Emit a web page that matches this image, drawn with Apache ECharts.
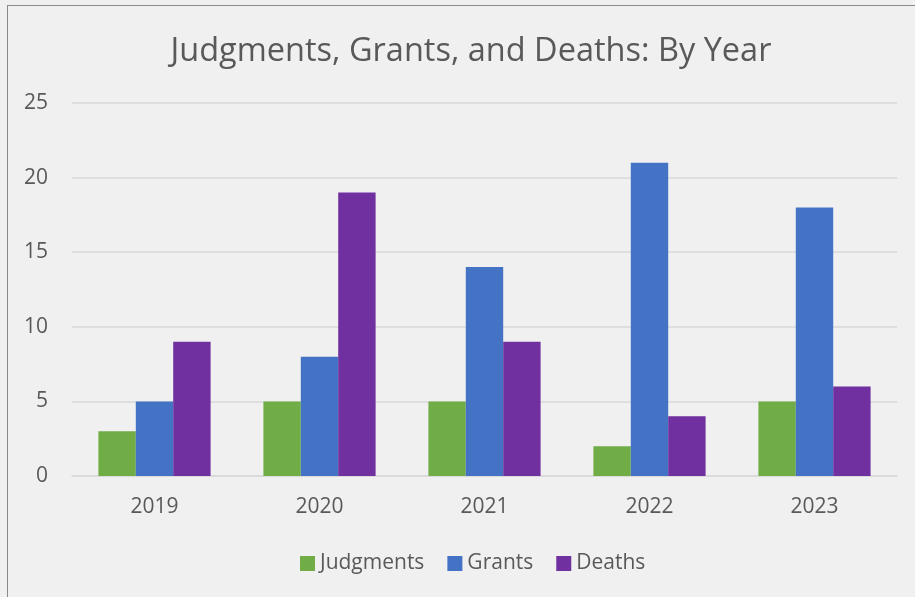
<!DOCTYPE html>
<html><head><meta charset="utf-8">
<script src="https://cdn.jsdelivr.net/npm/echarts@6/dist/echarts.min.js"></script>
<style>
html,body{margin:0;padding:0;background:#f0f0f0;}
#frame{position:absolute;left:7px;top:5px;width:930px;height:620px;border:1.5px solid #8a8a8a;box-sizing:border-box;}
#c{position:absolute;left:0;top:0;width:915px;height:597px;}
</style></head>
<body>
<div id="frame"></div>
<div id="c"></div>
<script>
const categories = ['2019','2020','2021','2022','2023'];
const judgments = [3,5,5,2,5];
const grants = [5,8,14,21,18];
const deaths = [9,19,9,4,6];
const yTicks = [0,5,10,15,20,25];

const chart = echarts.init(document.getElementById('c'));
const font = "'Open Sans', 'Noto Sans', sans-serif";
chart.setOption({
  backgroundColor: 'transparent',
  title: {
    text: 'Judgments, Grants, and Deaths: By Year',
    left: 466, top: 30, textAlign: 'center',
    textStyle: {fontFamily: font, fontSize: 32.5, fontWeight: 'normal', color: '#595959'}
  },
  legend: {
    data: ['Judgments','Grants','Deaths'],
    left: 295, top: 548,
    itemWidth: 15, itemHeight: 15, itemGap: 23,
    icon: 'rect',
    textStyle: {fontFamily: font, fontSize: 21, color: '#595959'}
  },
  grid: {left: 72, right: 18, top: 103, bottom: 121},
  xAxis: {
    type: 'category', data: categories,
    axisLine: {lineStyle: {color: '#d9d9d9', width: 1.5}},
    axisTick: {show: false},
    axisLabel: {fontFamily: font, fontSize: 21, color: '#595959', margin: 21}
  },
  yAxis: {
    type: 'value', min: yTicks[0], max: yTicks[yTicks.length-1], interval: 5,
    axisLine: {show: false}, axisTick: {show: false},
    splitLine: {lineStyle: {color: '#d9d9d9', width: 1.5}},
    axisLabel: {fontFamily: font, fontSize: 21, color: '#595959', margin: 24, align: 'right'}
  },
  series: [
    {name: 'Judgments', type: 'bar', data: judgments, barGap: '0%', barCategoryGap: '32%', itemStyle: {color: '#70AD47'}},
    {name: 'Grants', type: 'bar', data: grants, barGap: '0%', barCategoryGap: '32%', itemStyle: {color: '#4472C4'}},
    {name: 'Deaths', type: 'bar', data: deaths, barGap: '0%', barCategoryGap: '32%', itemStyle: {color: '#7030A0'}}
  ]
});
</script>
</body></html>
